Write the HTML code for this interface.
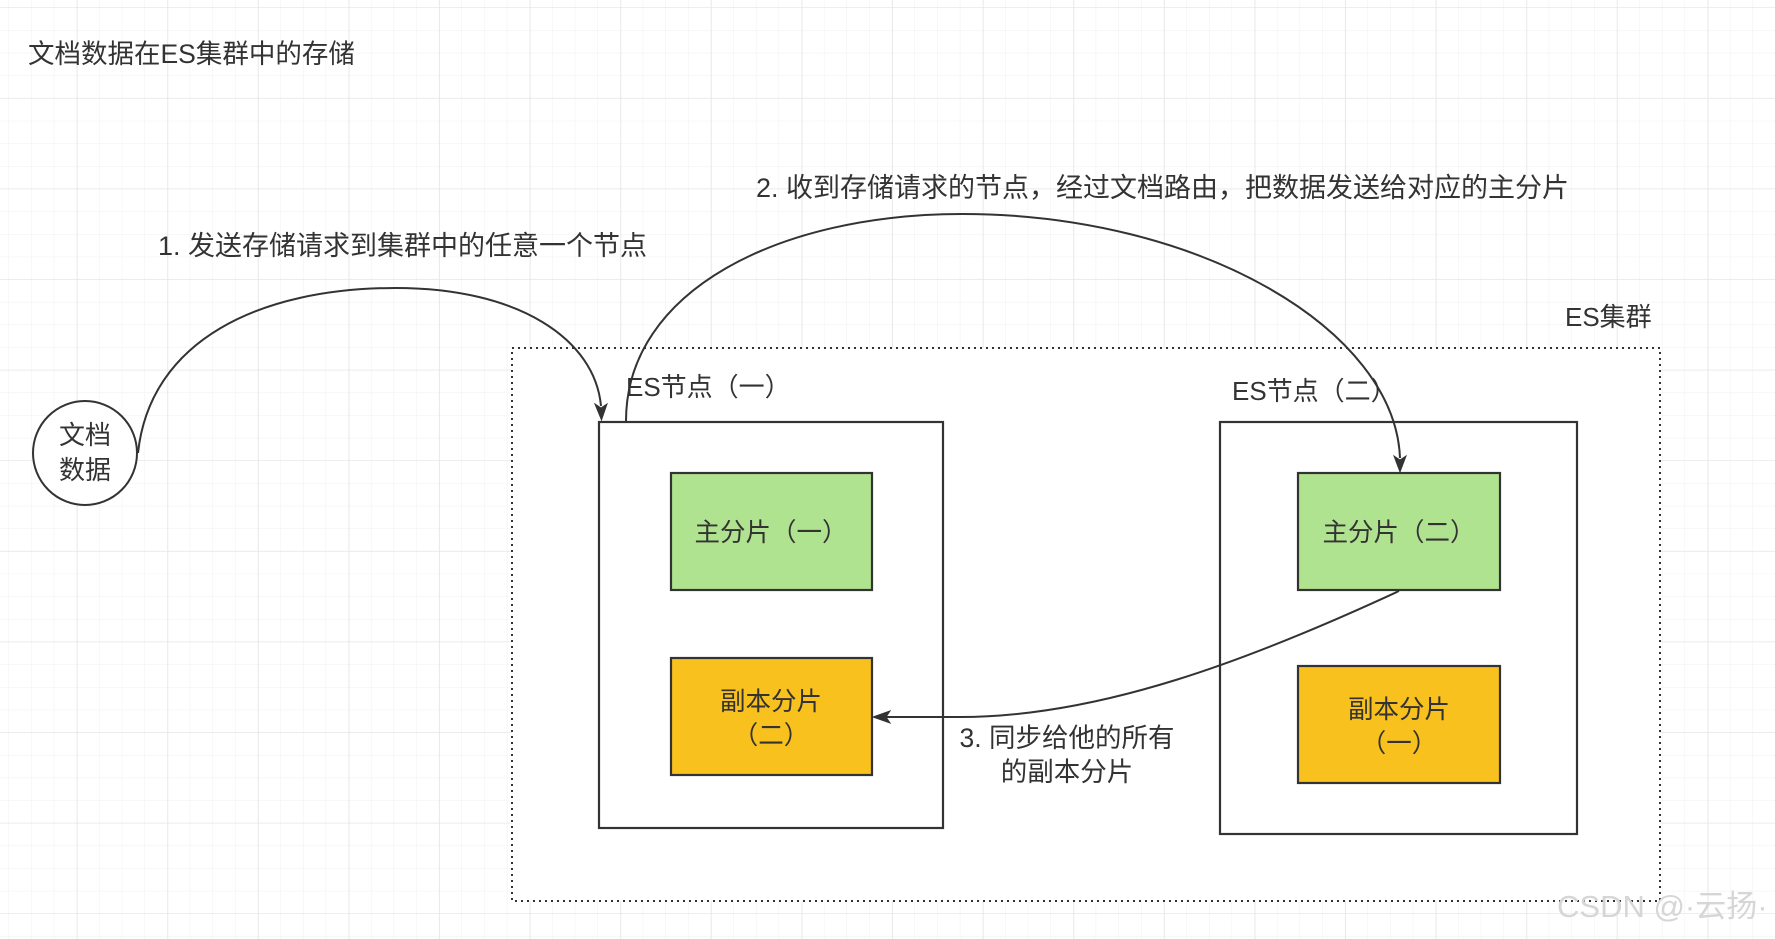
<!DOCTYPE html>
<html><head><meta charset="utf-8"><style>
html,body{margin:0;padding:0;background:#fff}
svg{display:block}
text{font-family:"Liberation Sans","Noto Sans CJK SC",sans-serif;fill:#333}
</style></head><body>
<svg width="1775" height="939" viewBox="0 0 1775 939" xmlns="http://www.w3.org/2000/svg">
<defs>
<pattern id="minor" width="22.65" height="22.65" patternUnits="userSpaceOnUse" x="9" y="8">
<path d="M22.65 0V22.65H0" fill="none" stroke="#f0f0f0" stroke-width="1"/>
</pattern>
<pattern id="major" width="90.6" height="90.6" patternUnits="userSpaceOnUse" x="-13" y="8">
<path d="M90.6 0V90.6H0" fill="none" stroke="#e4e4e4" stroke-width="1.3"/>
</pattern>
</defs>
<rect width="1775" height="939" fill="url(#minor)"/>
<rect width="1775" height="939" fill="url(#major)"/>

<text x="28" y="63" font-size="26.5">文档数据在ES集群中的存储</text>

<!-- cluster -->
<rect x="512" y="348" width="1148" height="553" fill="#fff" stroke="#333" stroke-width="2" stroke-dasharray="2,4"/>
<text x="1565" y="326" font-size="26">ES集群</text>

<!-- node 1 -->
<text x="626" y="396" font-size="26">ES节点（一）</text>
<rect x="599" y="422" width="344" height="406" fill="#fff" stroke="#333" stroke-width="2.2"/>
<rect x="671" y="473" width="201" height="117" fill="#b0e38f" stroke="#333" stroke-width="2.2"/>
<text x="771" y="541" font-size="25.5" text-anchor="middle">主分片（一）</text>
<rect x="671" y="658" width="201" height="117" fill="#f8c11e" stroke="#333" stroke-width="2.2"/>
<text x="771" y="710" font-size="25.5" text-anchor="middle">副本分片</text>
<text x="771" y="744" font-size="25.5" text-anchor="middle">（二）</text>

<!-- node 2 -->
<text x="1232" y="400" font-size="26">ES节点（二）</text>
<rect x="1220" y="422" width="357" height="412" fill="#fff" stroke="#333" stroke-width="2.2"/>
<rect x="1298" y="473" width="202" height="117" fill="#b0e38f" stroke="#333" stroke-width="2.2"/>
<text x="1399" y="541" font-size="25.5" text-anchor="middle">主分片（二）</text>
<rect x="1298" y="666" width="202" height="117" fill="#f8c11e" stroke="#333" stroke-width="2.2"/>
<text x="1399" y="718" font-size="25.5" text-anchor="middle">副本分片</text>
<text x="1399" y="752" font-size="25.5" text-anchor="middle">（一）</text>

<!-- circle -->
<circle cx="85" cy="453" r="52" fill="#fff" stroke="#333" stroke-width="2"/>
<text x="85" y="444" font-size="26" text-anchor="middle">文档</text>
<text x="85" y="479" font-size="26" text-anchor="middle">数据</text>

<!-- edges -->
<path d="M138 453 C150 340 260 288 396 288 C520 288 595 340 601 406" fill="none" stroke="#333" stroke-width="2"/>
<path d="M595 404 L601.5 420 L607 404 L601 408 Z" fill="#333" stroke="#333" stroke-width="1"/>
<text x="158" y="255" font-size="27">1. 发送存储请求到集群中的任意一个节点</text>

<path d="M626 421 C626 290 780 214 962 214 C1200 214 1395 330 1400 458" fill="none" stroke="#333" stroke-width="2"/>
<path d="M1394 456 L1400 472 L1406 456 L1400 460 Z" fill="#333" stroke="#333" stroke-width="1"/>
<text x="756" y="197" font-size="27">2. 收到存储请求的节点，经过文档路由，把数据发送给对应的主分片</text>

<path d="M1399 591 C1250 660 1100 717 960 717 L886 717" fill="none" stroke="#333" stroke-width="2"/>
<path d="M890 711 L873 717 L890 723 L886 717 Z" fill="#333" stroke="#333" stroke-width="1"/>
<text x="1067" y="747" font-size="26.5" text-anchor="middle">3. 同步给他的所有</text>
<text x="1067" y="781" font-size="26.5" text-anchor="middle">的副本分片</text>

<text x="1557" y="917" font-size="31" style="fill:#d6d6d6">CSDN @·云扬·</text>
</svg>
</body></html>
